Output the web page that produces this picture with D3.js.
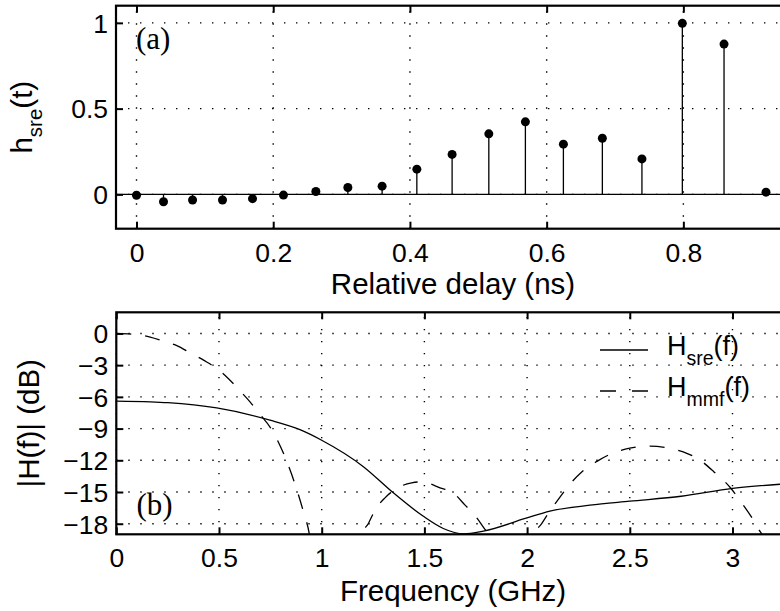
<!DOCTYPE html>
<html>
<head>
<meta charset="utf-8">
<script src="https://cdn.jsdelivr.net/npm/d3@7"></script>
<style>
	body { margin: 0; background: #fff; }
	svg { display: block; overflow: hidden; }
</style>
</head>
<body>
<div id="chart"></div>
<script>
// panel (a): stem plot of h_sre(t)
const delayNs = [0, 0.0395, 0.082, 0.1258, 0.1697, 0.215, 0.2624, 0.3092, 0.3593, 0.4101,
	0.4617, 0.5154, 0.5689, 0.6245, 0.6815, 0.7394, 0.7985, 0.8595, 0.9209];
const hSre = [-0.005, -0.043, -0.033, -0.033, -0.025, -0.004, 0.017, 0.04, 0.048, 0.147,
	0.233, 0.353, 0.423, 0.293, 0.327, 0.207, 0.997, 0.876, 0.013];
const delayTicks = [0, 0.2, 0.4, 0.6, 0.8];
const hTicks = [0, 0.5, 1];

// panel (b): magnitude responses in dB
const sreFreq = [0, 0.165, 0.25, 0.489, 0.748, 0.894, 1.0, 1.203, 1.349, 1.495, 1.592,
	1.69, 1.787, 1.991, 2.111, 2.306, 2.5, 2.75, 3.0, 3.28];
const sreDb = [-6.4, -6.47, -6.55, -7.05, -8.2, -9.1, -10.1, -12.6, -15.08, -17.3, -18.45,
	-18.96, -18.7, -17.5, -16.8, -16.25, -15.87, -15.4, -14.66, -14.2];
// null = spectral null far below the axis
const mmfFreq = [0, 0.1, 0.165, 0.229, 0.297, 0.362, 0.427, 0.489, 0.545, 0.599, 0.651, 0.696,
	0.75, 0.83, 0.91, 0.94, 0.955, 1.07, 1.18, 1.195, 1.228, 1.26, 1.308, 1.365, 1.438, 1.475,
	1.511, 1.576, 1.64, 1.698, 1.755, 1.795, 1.82, 1.835, 1.93, 2.02, 2.038, 2.071, 2.111, 2.152,
	2.2, 2.266, 2.34, 2.42, 2.5, 2.6, 2.69, 2.76, 2.85, 2.91, 2.99, 3.04, 3.1, 3.13, 3.15, 3.17];
const mmfDb = [0, -0.1, -0.35, -0.73, -1.17, -1.86, -2.55, -3.31, -4.26, -5.36, -6.47, -7.57,
	-8.9, -12.1, -16.8, -19, -21, null, -21, -19.05, -17.95, -16.7, -15.55, -14.66, -14.13, -14.05,
	-14.13, -14.6, -15.08, -16.24, -17.45, -18.54, -19.2, -21, null, -21, -18.96, -18.0, -16.8, -15.7,
	-14.45, -13.1, -12.1, -11.3, -10.85, -10.66, -10.85, -11.2, -12.1, -13.1, -14.6, -15.9, -17.6, -18.6, -19.3, -21];
const freqTicks = [0, 0.5, 1, 1.5, 2, 2.5, 3];
const dbTicks = [0, -3, -6, -9, -12, -15, -18];

const width = 780, height = 611;
const sans = "'Liberation Sans', Arial, Helvetica, sans-serif";
const serif = "'Liberation Serif', 'Times New Roman', serif";
const tickFont = 26.5, labelFont = 29.5;

const svg = d3.select("#chart")
	.append("svg")
	.attr("width", width)
	.attr("height", height)
	.attr("viewBox", [0, 0, width, height]);

const minus = d => String(d).replace("-", "\u2212");

function panel(x, y, xTicks, yTicks, clipId) {
	const [x0, x1] = x.range();
	const [y0, y1] = y.range(); // y0 = bottom
	const g = svg.append("g");

	g.append("clipPath").attr("id", clipId)
		.append("rect")
		.attr("x", x0).attr("y", y1)
		.attr("width", x1 - x0).attr("height", y0 - y1);

	// dotted grid
	const grid = g.append("g")
		.attr("stroke", "#000")
		.attr("stroke-width", 1.4)
		.attr("stroke-dasharray", "1.4,10.6");
	grid.selectAll(".gx").data(xTicks).join("line")
		.attr("x1", d => x(d)).attr("x2", d => x(d))
		.attr("y1", y0).attr("y2", y1);
	grid.selectAll(".gy").data(yTicks).join("line")
		.attr("y1", d => y(d)).attr("y2", d => y(d))
		.attr("x1", x0).attr("x2", x1);

	const styleAxis = sel => {
		sel.select(".domain").remove();
		sel.selectAll(".tick line").attr("stroke", "#000").attr("stroke-width", 2);
		sel.selectAll(".tick text")
			.attr("fill", "#000")
			.attr("font-family", sans)
			.attr("font-size", tickFont);
	};

	g.append("g")
		.attr("transform", `translate(0,${y0})`)
		.call(d3.axisBottom(x).tickValues(xTicks).tickSize(-7).tickPadding(14).tickFormat(minus))
		.call(styleAxis);
	g.append("g")
		.attr("transform", `translate(0,${y1})`)
		.call(d3.axisTop(x).tickValues(xTicks).tickSize(-7).tickFormat(""))
		.call(styleAxis);
	g.append("g")
		.attr("transform", `translate(${x0},0)`)
		.call(d3.axisLeft(y).tickValues(yTicks).tickSize(-7).tickPadding(8).tickFormat(minus))
		.call(styleAxis)
		.selectAll(".tick text").attr("dy", "0.35em");

	const plot = g.append("g").attr("clip-path", `url(#${clipId})`);
	return { g, plot, box: [x0, y1, x1 - x0, y0 - y1] };
}

function frame(p) {
	p.g.append("rect")
		.attr("x", p.box[0]).attr("y", p.box[1])
		.attr("width", p.box[2]).attr("height", p.box[3])
		.attr("fill", "none")
		.attr("stroke", "#000")
		.attr("stroke-width", 2.2);
}

// ---- panel (a)
const xa = d3.scaleLinear().domain([-0.03, 0.956]).range([116, 790]);
const ya = d3.scaleLinear().domain([-0.2, 1.1]).range([228.7, 5.7]);
const pa = panel(xa, ya, delayTicks, hTicks, "clipA");
const stems = delayNs.map((t, i) => ({ t, v: hSre[i] }));

pa.plot.append("line")
	.attr("x1", xa.range()[0]).attr("x2", xa.range()[1])
	.attr("y1", ya(0)).attr("y2", ya(0))
	.attr("stroke", "#000").attr("stroke-width", 1.2);
pa.plot.append("g")
	.selectAll("line")
	.data(stems)
	.join("line")
	.attr("x1", d => xa(d.t)).attr("x2", d => xa(d.t))
	.attr("y1", ya(0)).attr("y2", d => ya(d.v))
	.attr("stroke", "#000").attr("stroke-width", 1.3);
pa.plot.append("g")
	.selectAll("circle")
	.data(stems)
	.join("circle")
	.attr("cx", d => xa(d.t)).attr("cy", d => ya(d.v))
	.attr("r", 4.5)
	.attr("fill", "#000");
frame(pa);

pa.g.append("text")
	.attr("x", 136).attr("y", 48.5)
	.attr("font-family", serif).attr("font-size", 31)
	.text("(a)");

pa.g.append("text")
	.attr("x", 453).attr("y", 294)
	.attr("text-anchor", "middle")
	.attr("font-family", sans).attr("font-size", labelFont)
	.text("Relative delay (ns)");

const yla = pa.g.append("text")
	.attr("transform", `translate(32,${(ya.range()[0] + ya.range()[1]) / 2}) rotate(-90)`)
	.attr("text-anchor", "middle")
	.attr("font-family", sans).attr("font-size", labelFont);
yla.append("tspan").text("h");
yla.append("tspan").attr("font-size", 20.5).attr("dy", 10).text("sre");
yla.append("tspan").attr("dy", -10).text("(t)");

// ---- panel (b)
const xb = d3.scaleLinear().domain([0, 3.28]).range([116.3, 790]);
const yb = d3.scaleLinear().domain([-19, 2]).range([534.3, 312.3]);
const pb = panel(xb, yb, freqTicks, dbTicks, "clipB");

const sreData = sreFreq.map((f, i) => ({ f, db: sreDb[i] }));
const mmfData = mmfFreq.map((f, i) => ({ f, db: mmfDb[i] }));
const line = d3.line()
	.defined(d => d.db !== null)
	.x(d => xb(d.f))
	.y(d => yb(d.db))
	.curve(d3.curveMonotoneX);

pb.plot.append("path")
	.datum(mmfData)
	.attr("d", line)
	.attr("fill", "none")
	.attr("stroke", "#000")
	.attr("stroke-width", 1.3)
	.attr("stroke-dasharray", "15,14");
pb.plot.append("path")
	.datum(sreData)
	.attr("d", line)
	.attr("fill", "none")
	.attr("stroke", "#000")
	.attr("stroke-width", 1.3);
frame(pb);

pb.g.append("text")
	.attr("x", 136.5).attr("y", 514.5)
	.attr("font-family", serif).attr("font-size", 31)
	.text("(b)");

pb.g.append("text")
	.attr("x", 453).attr("y", 601)
	.attr("text-anchor", "middle")
	.attr("font-family", sans).attr("font-size", labelFont)
	.text("Frequency (GHz)");

pb.g.append("text")
	.attr("transform", `translate(39,${(yb.range()[0] + yb.range()[1]) / 2}) rotate(-90)`)
	.attr("text-anchor", "middle")
	.attr("font-family", sans).attr("font-size", labelFont)
	.text("|H(f)| (dB)");

// legend
const legendItems = [
	{ name: "H", sub: "sre", dash: null },
	{ name: "H", sub: "mmf", dash: "16,16" }
];
const legend = pb.g.append("g");
legendItems.forEach((d, i) => {
	const ly = 350 + i * 41;
	legend.append("line")
		.attr("x1", 600).attr("x2", 648)
		.attr("y1", ly).attr("y2", ly)
		.attr("stroke", "#000").attr("stroke-width", 1.3)
		.attr("stroke-dasharray", d.dash);
	const t = legend.append("text")
		.attr("x", 667).attr("y", ly + 5)
		.attr("font-family", sans).attr("font-size", 27);
	t.append("tspan").text(d.name);
	t.append("tspan").attr("font-size", 19.5).attr("dy", 10).text(d.sub);
	t.append("tspan").attr("dy", -10).text("(f)");
});
</script>
</body>
</html>
